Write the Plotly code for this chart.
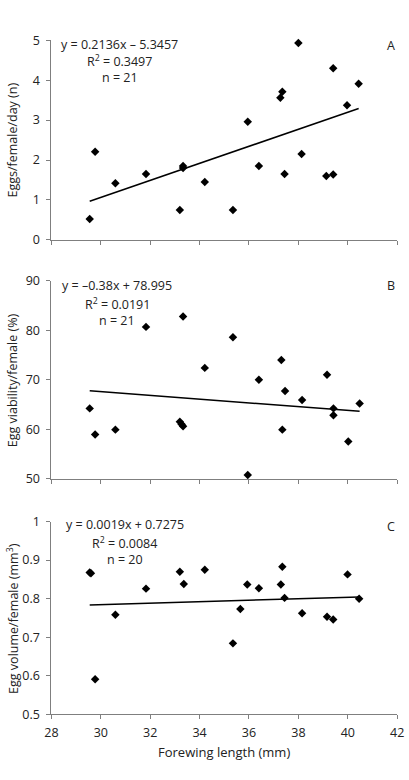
import plotly.graph_objects as go

# ---- data ----
xA = [29.55, 29.77, 30.59, 31.83, 33.20, 33.33, 33.33, 34.21, 35.35, 35.95, 36.40,
      37.27, 37.35, 37.44, 38.00, 38.13, 39.13, 39.41, 39.41, 39.97, 40.44]
yA = [0.52, 2.21, 1.42, 1.65, 0.75, 1.85, 1.80, 1.45, 0.75, 2.96, 1.85,
      3.56, 3.71, 1.65, 4.93, 2.15, 1.60, 4.30, 1.64, 3.37, 3.91]

xB = [29.55, 29.77, 30.59, 31.83, 33.20, 33.27, 33.33, 33.33, 34.21, 35.35, 35.95,
      36.40, 37.31, 37.35, 37.46, 38.15, 39.16, 39.42, 39.42, 40.02, 40.48]
yB = [64.2, 58.9, 59.9, 80.7, 61.5, 61.0, 60.6, 82.8, 72.4, 78.6, 50.7,
      70.0, 74.0, 59.9, 67.7, 65.9, 71.0, 64.2, 62.8, 57.5, 65.2]

xC = [29.55, 29.60, 29.77, 30.59, 31.83, 33.20, 33.36, 34.21, 35.35, 35.65, 35.93,
      36.40, 37.29, 37.35, 37.44, 38.15, 39.16, 39.41, 39.99, 40.46]
yC = [0.868, 0.866, 0.591, 0.758, 0.826, 0.870, 0.838, 0.875, 0.684, 0.773, 0.837,
      0.827, 0.837, 0.883, 0.802, 0.762, 0.753, 0.746, 0.863, 0.800]

slopes = [0.2136, -0.38, 0.0019]
intercepts = [-5.3457, 78.995, 0.7275]
eq_labels = ["y = 0.2136x – 5.3457", "y = –0.38x + 78.995", "y = 0.0019x + 0.7275"]
r2_labels = ["R<sup>2</sup> = 0.3497", "R<sup>2</sup> = 0.0191", "R<sup>2</sup> = 0.0084"]
n_labels = ["n = 21", "n = 21", "n = 20"]
panel_letters = ["A", "B", "C"]
y_titles = ["Eggs/female/day (n)", "Egg viability/female (%)", "Egg volume/female (mm<sup>3</sup>)"]
y_ranges = [[0, 5], [50, 90], [0.5, 1]]
y_dticks = [1, 10, 0.1]
x_ticks = [28, 30, 32, 34, 36, 38, 40, 42]

W, H = 409, 780
FONT = "Open Sans"
TXT = "#222222"
AX = "#7f7f7f"

# pixel layout
x0, x1 = 46, 404
panels_px = [(32, 236), (278, 480), (524, 721)]

fig = go.Figure()
datasets = [(xA, yA), (xB, yB), (xC, yC)]
annos = []
for i, ((xs, ys), (top, bot)) in enumerate(zip(datasets, panels_px)):
    xa = "x" if i == 0 else f"x{i+1}"
    ya = "y" if i == 0 else f"y{i+1}"
    fig.add_trace(go.Scatter(x=xs, y=ys, mode="markers", xaxis=xa, yaxis=ya,
                             marker=dict(symbol="diamond", size=6.5, color="black"),
                             cliponaxis=False, showlegend=False))
    lx = [min(xs), max(xs)]
    ly = [slopes[i] * v + intercepts[i] for v in lx]
    fig.add_trace(go.Scatter(x=lx, y=ly, mode="lines", xaxis=xa, yaxis=ya,
                             line=dict(color="black", width=1.5), showlegend=False))
    dom_y = [1 - bot / H, 1 - top / H]
    lay_x = "xaxis" if i == 0 else f"xaxis{i+1}"
    lay_y = "yaxis" if i == 0 else f"yaxis{i+1}"
    fig.layout[lay_x] = dict(domain=[x0 / W, x1 / W], range=[28, 42], anchor=ya,
                             tickvals=x_ticks, showticklabels=(i == 2),
                             ticks="outside", ticklen=4, tickcolor=AX,
                             ticklabeloverflow="allow", ticklabelstandoff=3,
                             showline=True, linecolor=AX, linewidth=1,
                             showgrid=False, zeroline=False,
                             tickfont=dict(family=FONT, size=12.5, color=TXT))
    fig.layout[lay_y] = dict(domain=dom_y, range=y_ranges[i], anchor=xa,
                             dtick=y_dticks[i], tick0=y_ranges[i][0],
                             ticks="outside", ticklen=4, tickcolor=AX,
                             ticklabelstandoff=4,
                             showline=True, linecolor=AX, linewidth=1,
                             showgrid=False, zeroline=False,
                             tickfont=dict(family=FONT, size=12.5, color=TXT))
    # annotations (pixel-based positions converted to paper)
    eq_pos = [(117, 36, 53, 70), (114, 283, 302, 318), (122, 527, 546, 563)][i]
    cx = eq_pos[0] / W
    for txt, py in zip([eq_labels[i], r2_labels[i], n_labels[i]], eq_pos[1:]):
        annos.append(dict(text=txt, x=cx, y=1 - py / H, xref="paper", yref="paper",
                          xanchor="center", yanchor="middle", showarrow=False,
                          font=dict(family=FONT, size=12.5, color=TXT)))
    annos.append(dict(text=panel_letters[i], x=398 / W, y=1 - (top + 5) / H,
                      xref="paper", yref="paper", xanchor="center", yanchor="middle",
                      showarrow=False, font=dict(family=FONT, size=12.5, color=TXT)))
    annos.append(dict(text=y_titles[i], x=1 / W, y=1 - (top + bot) / 2 / H,
                      xref="paper", yref="paper", xanchor="left", yanchor="middle",
                      textangle=-90, showarrow=False, xshift=-6,
                      font=dict(family=FONT, size=12.5, color=TXT)))

annos.append(dict(text="Forewing length (mm)", x=(x0 + x1) / 2 / W, y=1 - 760 / H,
                  xref="paper", yref="paper", xanchor="center", yanchor="middle",
                  showarrow=False, font=dict(family=FONT, size=13, color=TXT)))

fig.update_layout(width=W, height=H, margin=dict(l=0, r=0, t=0, b=0),
                  paper_bgcolor="white", plot_bgcolor="white",
                  annotations=annos, showlegend=False)

fig.write_html("out.html")
